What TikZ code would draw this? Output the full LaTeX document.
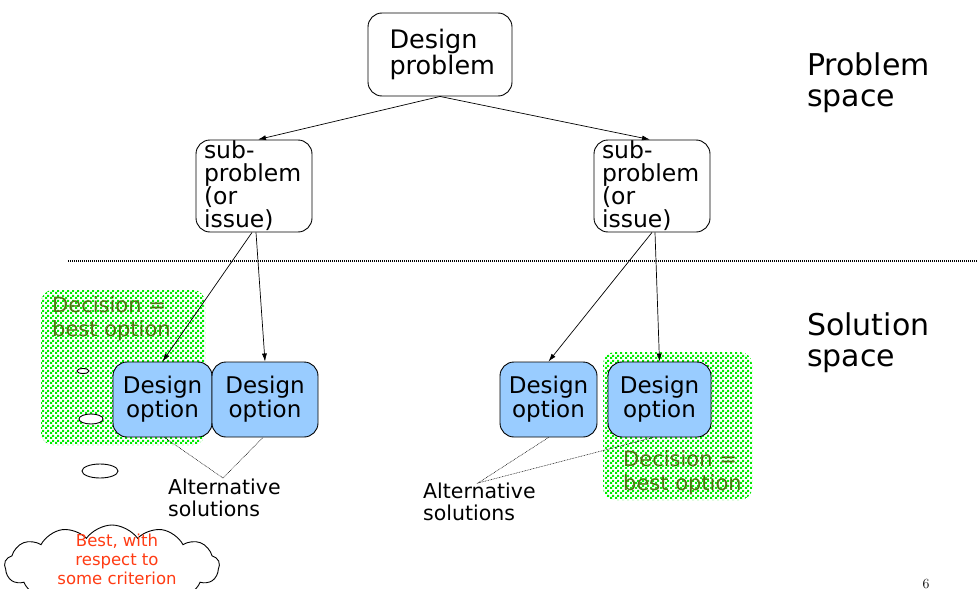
\documentclass[tikz,border=0pt]{standalone}
\usepackage{fontspec}
\setmainfont{DejaVu Sans}
\usetikzlibrary{arrows.meta,shapes.symbols,shapes.geometric,patterns,calc}
\definecolor{optblue}{RGB}{153,204,255}
\definecolor{decgreen}{RGB}{80,120,20}
\definecolor{meshgreen}{RGB}{0,235,0}
\definecolor{cloudred}{RGB}{255,60,20}
\pgfdeclarepatternformonly{greenmesh}{\pgfpointorigin}{\pgfqpoint{5pt}{5pt}}{\pgfqpoint{5pt}{5pt}}{%
  \pgfpathrectangle{\pgfpointorigin}{\pgfqpoint{2.5pt}{2.5pt}}%
  \pgfpathrectangle{\pgfqpoint{2.5pt}{2.5pt}}{\pgfqpoint{2.5pt}{2.5pt}}%
  \pgfusepath{fill}}
\tikzset{
  probbox/.style={draw, line width=0.9pt, rounded corners=14pt, inner sep=0pt},
  optbox/.style={draw, line width=0.9pt, rounded corners=14pt, fill=optblue, inner sep=0pt, minimum height=75pt, align=center, font=\fontsize{23}{24}\selectfont},
  meshbox/.style={rounded corners=12pt, pattern=greenmesh, pattern color=meshgreen, inner sep=0pt},
  dectext/.style={text=decgreen, align=left, inner sep=0pt, font=\fontsize{21}{24}\selectfont},
  arr/.style={-{Latex[length=8pt,width=5pt]}, line width=0.7pt},
  thin dotted line/.style={line width=0.5pt, dash pattern=on 0.8pt off 0.8pt},
  bubble/.style={draw, ellipse, line width=0.9pt, fill=white, inner sep=0pt},
  alttext/.style={align=left, anchor=north west, inner sep=0pt, font=\fontsize{20.5}{22}\selectfont},
  spacetext/.style={align=left, anchor=north west, inner sep=0pt, font=\fontsize{30}{31}\selectfont}
}
\begin{document}
\begin{tikzpicture}[x=1pt,y=-1pt]
\useasboundingbox (0,0) rectangle (978,589);
\clip (0,0) rectangle (978,589);
% green decision areas
\node[meshbox, minimum width=164pt, minimum height=155pt] (gl) at (123,367.5) {};
\node[meshbox, minimum width=149pt, minimum height=148pt] (gr) at (677.5,426) {};
\node[dectext, anchor=north west] (dl) at (52,296) {Decision =\\best option};
\node[dectext, anchor=north west] (dr) at (623,450) {Decision =\\best option};
% problem nodes
\node[probbox, minimum width=144pt, minimum height=83pt, text width=125pt, inner xsep=0pt, align=left, font=\fontsize{25.5}{26}\selectfont] (dp) at (440,54.5) {\hspace*{12pt}Design\\\hspace*{12pt}problem};
\node[probbox, minimum width=116pt, minimum height=92pt, text width=100pt, inner xsep=8pt, align=left, font=\fontsize{23.5}{23}\selectfont] (sl) at (254,186) {sub-\\problem\\(or\\issue)};
\node[probbox, minimum width=116pt, minimum height=92pt, text width=100pt, inner xsep=8pt, align=left, font=\fontsize{23.5}{23}\selectfont] (sr) at (652,186) {sub-\\problem\\(or\\issue)};
% options
\node[optbox, minimum width=99pt] (oa) at (162.5,399.5) {Design\\option};
\node[optbox, minimum width=106pt] (ob) at (265,399.5) {Design\\option};
\node[optbox, minimum width=97pt] (oc) at (548.5,399.5) {Design\\option};
\node[optbox, minimum width=103pt] (od) at (659.5,399.5) {Design\\option};
% arrows
\draw[arr] (dp.south) -- ([xshift=4pt]sl.north);
\draw[arr] (dp.south) -- ([xshift=-2pt]sr.north);
\draw[arr] ([xshift=-2pt]sl.south) -- (oa.north);
\draw[arr] ([xshift=2pt]sl.south) -- (ob.north);
\draw[arr] (sr.south) -- (oc.north);
\draw[arr] ([xshift=3pt]sr.south) -- (od.north);
% divider
\coordinate (divl) at (68,261);
\coordinate (divr) at (978,261);
\draw[line width=1.2pt, dash pattern=on 1pt off 1pt] (divl) -- (divr);
% alternative solutions
\coordinate (cl) at (223,478);
\coordinate (cr) at (478,483);
\draw[thin dotted line] ([xshift=2pt]oa.south) -- (cl) -- ([xshift=-2pt]ob.south);
\draw[thin dotted line] (oc.south) -- (cr) -- ([xshift=-6pt]od.south);
\node[alttext] (al) at (168,479) {Alternative\\solutions};
\node[alttext] (ar) at (423,483) {Alternative\\solutions};
% thought bubbles and cloud
\node[bubble, minimum width=12pt, minimum height=5pt] (b1) at (83,371) {};
\node[bubble, minimum width=24pt, minimum height=10pt] (b2) at (91,419) {};
\node[bubble, minimum width=36pt, minimum height=14pt] (b3) at (100,471) {};
\node[cloud, draw, line width=0.9pt, fill=white, cloud puffs=13, cloud puff arc=110, minimum width=215pt, minimum height=82pt, aspect=2.8, inner sep=0pt] (cl1) at (112,566) {};
\node[align=center, text=cloudred, inner sep=0pt, font=\fontsize{16.5}{19}\selectfont] (ct) at (117,559) {Best, with\\respect to\\some criterion};
% space labels
\node[spacetext] (ps) at (807,53) {Problem\\space};
\node[spacetext] (ss) at (807,313) {Solution\\space};
\node[inner sep=0pt, font=\rmfamily\fontsize{14}{14}\selectfont, anchor=base] (pg) at (926,588) {\fontspec{Latin Modern Roman}6};
\end{tikzpicture}
\end{document}
